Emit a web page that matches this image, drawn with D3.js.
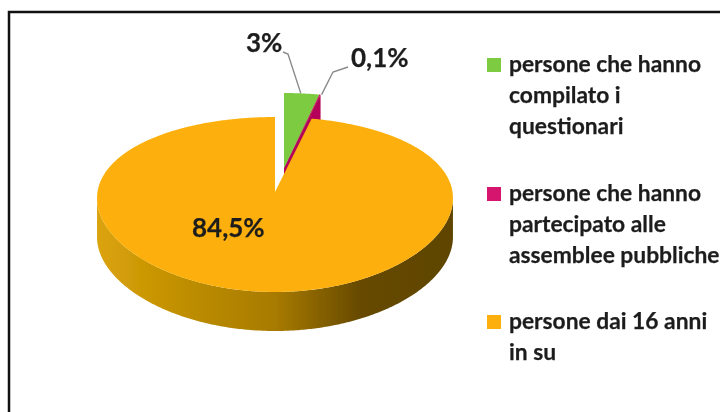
<!DOCTYPE html>
<html>
<head>
<meta charset="utf-8">
<script src="https://cdn.jsdelivr.net/npm/d3@7"></script>
<style>
  html, body { margin: 0; padding: 0; background: #ffffff; }
  svg { display: block; }
  text { font-family: Lato, "Open Sans", sans-serif; font-weight: 700; fill: #1f1f1f; stroke: #1f1f1f; stroke-width: 0.25; }
  .pct { font-size: 26px; }
  .legend-text { font-size: 22.8px; }
</style>
</head>
<body>
<svg width="720" height="412" viewBox="0 0 720 412"></svg>
<script>
// chart values
const categories = [
  ['persone che hanno', 'compilato i', 'questionari'],
  ['persone che hanno', 'partecipato alle', 'assemblee pubbliche'],
  ['persone dai 16 anni', 'in su']
]
const values = [3, 0.1, 84.5]
const valueLabels = ['3%', '0,1%', '84,5%']
const colors = ['#7ccb3f', '#d6126e', '#fdb008']
const wallColors = ['#5f9c2e', '#b5005a', '#a87b00']

const svg = d3.select('svg')

// the reference is a soft jpeg, so everything gets a slight blur
const defs = svg.append('defs')
defs.append('filter')
  .attr('id', 'soft')
  .attr('x', '-5%').attr('y', '-5%').attr('width', '110%').attr('height', '110%')
  .append('feGaussianBlur')
  .attr('stdDeviation', 0.5)

const chart = svg.append('g').attr('filter', 'url(#soft)')

// sheet frame, only top and left edges show in the picture
svg.append('path')
  .attr('d', 'M9,412V12H720')
  .attr('fill', 'none')
  .attr('stroke', '#111111')
  .attr('stroke-width', 2.5)

// wall shading runs left to right
const wallGradient = defs.append('linearGradient')
  .attr('id', 'wall')
  .attr('gradientUnits', 'userSpaceOnUse')
  .attr('x1', 97).attr('x2', 452).attr('y1', 0).attr('y2', 0)
wallGradient.selectAll('stop')
  .data([[0, '#dba30a'], [0.3, '#b98a00'], [0.5, '#a87b00'], [0.74, '#674a00'], [1, '#5f4500']])
  .join('stop')
  .attr('offset', d => d[0])
  .attr('stop-color', d => d[1])

// pie angles, the slices run clockwise from 12 o'clock
const pie = d3.pie().sort(null).value(d => d)
const slices = pie(values)

// tilted disc with perspective: the back of the disc is squeezed
const depth = 39
const persp = 1 / 7
const xScale = d3.scaleLinear().domain([-1, 1]).range([275 - 177.5, 275 + 177.5])
const yScale = d3.scaleLinear().domain([-1, 1]).range([192 + 85.7, 192 - 85.7])

function project(angle, r = 1) {
  const u = r * Math.sin(angle)
  const w = r * Math.cos(angle)
  return [xScale(u / (1 + w * persp / 2)), yScale(w / (1 + w * persp))]
}

function rim(a0, a1) {
  const n = Math.max(2, Math.ceil((a1 - a0) / 0.01))
  return d3.range(n + 1).map(i => project(a0 + (a1 - a0) * i / n))
}

const line = d3.line()

// explode offset of the two small slices
const explode = { dx: 9, dy: -24 }

// front wall of the big slice, between the widest points of the disc
const frontA = Math.acos(-persp / 2)
const frontB = 2 * Math.PI - frontA
const frontRim = rim(frontA, frontB)
chart.append('path')
  .attr('d', line(frontRim.concat(frontRim.slice().reverse().map(p => [p[0], p[1] + depth]))) + 'Z')
  .attr('fill', 'url(#wall)')

// small exploded slices with their cut face, drawn before the big slice covers them
const small = chart.append('g').attr('transform', `translate(${explode.dx},${explode.dy})`)

small.selectAll('path.face')
  .data(slices.slice(0, 2))
  .join('path')
  .attr('class', 'face')
  .attr('fill', (d, i) => wallColors[i])
  .attr('d', d => {
    const outer = project(d.endAngle)
    const centre = project(0, 0)
    return line([centre, outer, [outer[0], outer[1] + depth], [centre[0], centre[1] + depth]]) + 'Z'
  })

small.selectAll('path.top')
  .data(slices.slice(0, 2))
  .join('path')
  .attr('class', 'top')
  .attr('fill', (d, i) => colors[i])
  .attr('d', d => line([project(0, 0), ...rim(d.startAngle, d.endAngle)]) + 'Z')

// big slice top
chart.append('path')
  .attr('fill', colors[2])
  .attr('d', line([project(0, 0), ...rim(slices[2].startAngle, slices[2].endAngle)]) + 'Z')

// value labels
const labelPos = [[246, 52], [351, 67], [192, 237]]
chart.selectAll('text.pct')
  .data(valueLabels)
  .join('text')
  .attr('class', 'pct')
  .attr('x', (d, i) => labelPos[i][0])
  .attr('y', (d, i) => labelPos[i][1])
  .text(d => d)

// leader lines from the rim of the small slices to their labels
const leaders = chart.append('g').attr('fill', 'none').attr('stroke', '#8a8a8a').attr('stroke-width', 1.4)
const green = project((slices[0].startAngle + slices[0].endAngle) / 2)
leaders.append('path')
  .attr('d', line([[283, 52], [288, 54], [green[0] + explode.dx - 1, green[1] + explode.dy]]))
const pink = project(slices[1].endAngle)
leaders.append('path')
  .attr('d', line([[348, 67], [333, 72], [pink[0] + explode.dx + 1, pink[1] + explode.dy]]))

// legend
const legendSwatchY = [58, 187, 315]
const legendLine = 30.8
const legend = chart.selectAll('g.legend')
  .data(categories)
  .join('g')
  .attr('class', 'legend')
  .attr('transform', (d, i) => `translate(487,${legendSwatchY[i]})`)

legend.append('rect')
  .attr('width', 14)
  .attr('height', 14)
  .attr('fill', (d, i) => colors[i])

legend.selectAll('text')
  .data(d => d)
  .join('text')
  .attr('class', 'legend-text')
  .attr('x', 22)
  .attr('y', (d, i) => 14 + i * legendLine)
  .text(d => d)
</script>
</body>
</html>
